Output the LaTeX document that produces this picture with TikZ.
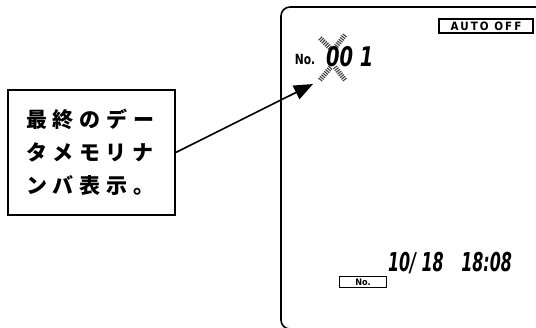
\documentclass[tikz,border=0pt]{standalone}
\usepackage{fontspec}
\newfontfamily\cjk{Noto Sans CJK JP}[LetterSpace=28]
\newfontfamily\lcd{DejaVu Sans Condensed}
\newfontfamily\panel{DejaVu Sans Condensed}[LetterSpace=18]
\usetikzlibrary{arrows.meta}
\tikzset{
  blinkarm/.style={line width=5pt, dash pattern=on 1.1pt off 1.1pt, black!75},
  keybox/.style={draw, line width=1.2pt, inner sep=0pt}
}
\begin{document}
\begin{tikzpicture}[x=1pt,y=-1pt]
  \useasboundingbox (0,0) rectangle (536,327);

  % display frame
  \draw[line width=1.6pt, rounded corners=9pt] (545,7) -- (281,7) -- (281,329) -- (330,329);

  % callout
  \node[draw, line width=1.5pt, text width=131pt, inner xsep=18pt, minimum height=125pt,
        align=left, font=\cjk\bfseries\fontsize{21}{33}\selectfont] (memo) at (91.5,152.5)
        {最終のデー\\タメモリナ\\ンバ表示。};
  \coordinate (tip) at (313,84);
  \draw[line width=1.6pt, -{Triangle[width=15pt,length=19pt]}] (memo.east) -- (tip);

  % top of display
  \node[keybox, minimum width=94pt, minimum height=14pt,
        font=\panel\bfseries\fontsize{11.5}{11.5}\selectfont] (autooff) at (486,26) {AUTO OFF};
  \node[font=\lcd\bfseries\fontsize{14}{14}\selectfont, xscale=0.85] (numlabel) at (305,59) {No.};
  \draw[blinkarm] (320,38) -- (331,49);
  \draw[blinkarm] (345,35) -- (334,49);
  \draw[blinkarm] (320,80) -- (331,67);
  \draw[blinkarm] (345,80) -- (335,67);
  \node[font=\lcd\bfseries\itshape\fontsize{27}{27}\selectfont, xscale=0.8, anchor=west, inner sep=0pt] (numval) at (326,57) {00 1};

  % bottom of display
  \node[font=\lcd\bfseries\itshape\fontsize{26}{26}\selectfont, xscale=0.68] (clock) at (450,263) {10/ 18\quad 18:08};
  \node[keybox, minimum width=47pt, minimum height=11pt,
        font=\lcd\bfseries\fontsize{9}{9}\selectfont] (nokey) at (363,282) {No.};
\end{tikzpicture}
\end{document}
